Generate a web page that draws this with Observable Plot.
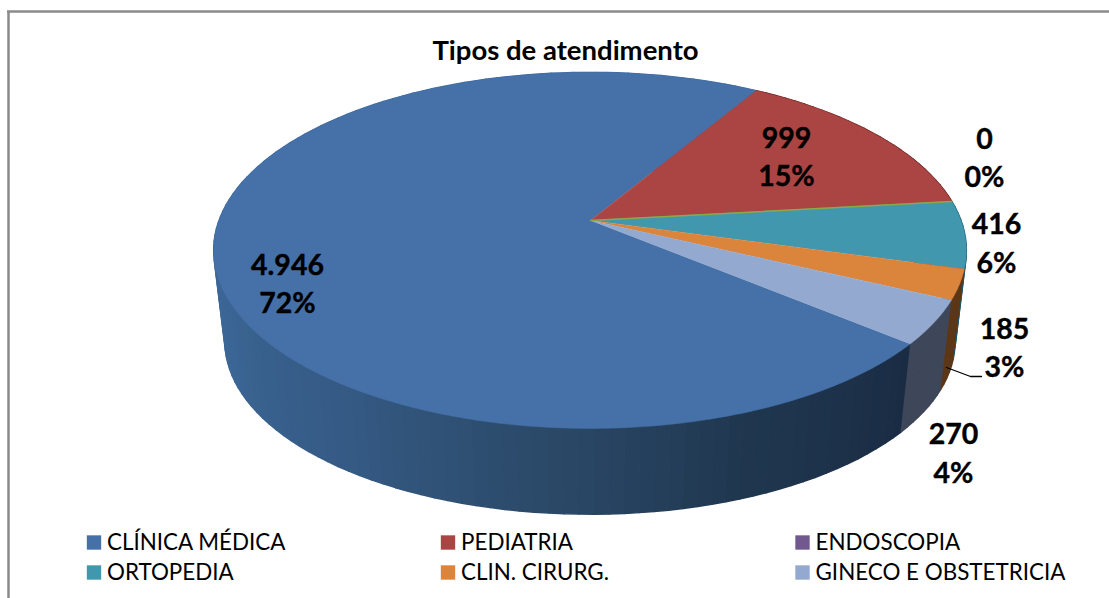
<!DOCTYPE html>
<html>
<head>
<meta charset="utf-8">
<style>html,body{margin:0;padding:0;background:#fff}svg{display:block}</style>
<script src="https://cdn.jsdelivr.net/npm/d3@7"></script>
<script src="https://cdn.jsdelivr.net/npm/@observablehq/plot@0.6"></script>
</head>
<body>
<div id="chart"></div>
<script>
// Data
const categories = ["CLÍNICA MÉDICA","PEDIATRIA","ENDOSCOPIA","ORTOPEDIA","CLIN. CIRURG.","GINECO E OBSTETRICIA"];
const values = [4946,999,0,416,185,270];
const valueLabels = ["4.946","999","0","416","185","270"];
const percentLabels = ["72%","15%","0%","6%","3%","4%"];

// Styling
const legendColors = ["#4571a8","#aa4543","#71588f","#4197ae","#db843c","#93a9cf"];
const topColors = ["#4571a8","#aa4543","#8aa84c","#4197ae","#db843c","#93a9cf"];
const wallColors = ["#1b2d45","#5f1f1e","#4a5a26","#1f5568","#5c3717","#3e4759"];
const blueWallAngles = [130,160,185,215,245,275];
const blueWallStops = ["#1a2c44","#203750","#2b4968","#355a84","#3b6594","#3e6b9e"];

// Layout
const W = 1109, H = 598;
const labelX = [287,786,984,996,1004,953];
const labelY1 = [265,138,139,224,329,434];
const labelY2 = [303,176,177,263,367,473];
const legendX = [93.5,447.5,802,93.5,447.5,802];
const legendY = [542,542,542,572,572,572];
const leaderX = [946,970,981], leaderY = [367,376,376];
const pie3d = {cx:589.5,apexX:590,top:220,bottom:312,A:371,B:173,k:0.168,s:0.97,start:129.6};

const rad = d => d*Math.PI/180;
function project(a,level){ // a: clockwise from top, radians; level 0=top, 1=bottom face
  const X=Math.sin(a), Y=-Math.cos(a), w=1-pie3d.k*Y, s=level?pie3d.s:1;
  return {x:pie3d.cx+s*pie3d.A*X/w, y:(level?pie3d.bottom:pie3d.top)+s*pie3d.B*Y/w};
}
const arcs = d3.pie().sort(null).value(d=>d).startAngle(rad(pie3d.start)).endAngle(rad(pie3d.start+360))(values);

// Top face polygons
const topRows = [];
arcs.forEach((arc,i)=>{
  const id="t"+i;
  topRows.push({id,x:pie3d.apexX,y:pie3d.top,c:topColors[i]});
  const n=Math.max(1,Math.ceil((arc.endAngle-arc.startAngle)/rad(0.5)));
  for(let j=0;j<=n;j++){
    const p=project(arc.startAngle+(arc.endAngle-arc.startAngle)*j/n,0);
    topRows.push({id,x:p.x,y:p.y,c:topColors[i]});
  }
});
// The zero-value slice shows only as a thin line on the pie's top face
const zeroRows = topRows.filter(d=>d.id==="t2");

// Side wall strips
const blueColor = d3.scaleLinear().domain(blueWallAngles).range(blueWallStops).clamp(true);
const strips=[];
arcs.forEach((arc,i)=>{
  const n=Math.max(1,Math.ceil((arc.endAngle-arc.startAngle)/rad(2)));
  for(let j=0;j<n;j++){
    const a0=arc.startAngle+(arc.endAngle-arc.startAngle)*j/n, a1=arc.startAngle+(arc.endAngle-arc.startAngle)*(j+1)/n;
    const deg=((a0+a1)/2)*180/Math.PI;
    strips.push({a0,a1,c:i===0?blueColor(deg):wallColors[i],order:-Math.cos((a0+a1)/2)});
  }
});
strips.sort((a,b)=>a.order-b.order);
const wallRows=[];
strips.forEach((s,i)=>{
  [project(s.a0,0),project(s.a1,0),project(s.a1,1),project(s.a0,1)].forEach(p=>wallRows.push({id:i,x:p.x,y:p.y,c:s.c}));
});

const labels = categories.map((c,i)=>({c,i}));
const font = "Lato, Carlito, sans-serif";

const plot = Plot.plot({
  width:W,height:H,margin:0,
  x:{domain:[0,W],range:[0,W],axis:null},
  y:{domain:[0,H],range:[0,H],axis:null},
  color:{type:"identity"},
  style:{fontFamily:font,background:"#fff",color:"#000"},
  marks:[
    Plot.ruleX([8],{y1:11,y2:H,stroke:"#8a8a8a",strokeWidth:2.5}),
    Plot.ruleY([11],{x1:7,x2:W,stroke:"#8a8a8a",strokeWidth:2.5}),
    Plot.line(wallRows,{x:"x",y:"y",z:"id",fill:"c",stroke:"c",strokeWidth:1.5}),
    Plot.line(topRows,{x:"x",y:"y",z:"id",fill:"c",stroke:"c",strokeWidth:0.5}),
    Plot.line(zeroRows,{x:"x",y:"y",stroke:"#8aa84c",strokeWidth:1.5}),
    Plot.line(leaderX.map((x,i)=>({x,y:leaderY[i]})),{x:"x",y:"y",stroke:"#000",strokeWidth:1.3,curve:"linear"}),
    Plot.text(["Tipos de atendimento"],{x:565,y:51,text:d=>d,fontSize:27.5,fontWeight:700,fill:"#000"}),
    Plot.text(labels,{x:d=>labelX[d.i],y:d=>labelY1[d.i],text:d=>valueLabels[d.i],fontSize:28.5,fontWeight:700,fill:"#000",stroke:"#000",strokeWidth:0.4}),
    Plot.text(labels,{x:d=>labelX[d.i],y:d=>labelY2[d.i],text:d=>percentLabels[d.i],fontSize:28.5,fontWeight:700,fill:"#000",stroke:"#000",strokeWidth:0.4}),
    Plot.dot(labels,{x:d=>legendX[d.i],y:d=>legendY[d.i],symbol:"square",r:8.1,fill:d=>legendColors[d.i],stroke:"none"}),
    Plot.text(labels,{x:d=>legendX[d.i]+13,y:d=>legendY[d.i],text:"c",textAnchor:"start",fontSize:22.4,fill:"#000"})
  ]
});
document.getElementById("chart").append(plot);
</script>
</body>
</html>
